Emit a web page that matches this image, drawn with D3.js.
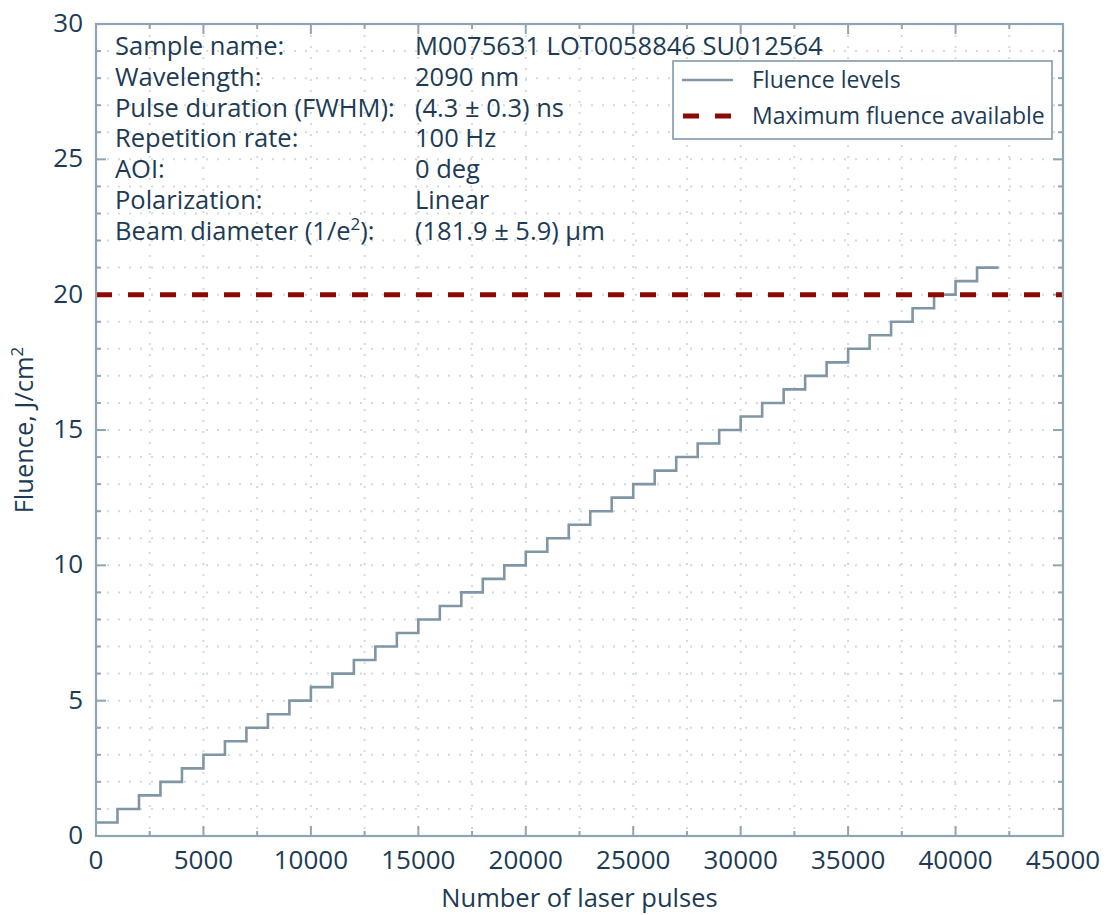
<!DOCTYPE html>
<html>
<head>
<meta charset="utf-8">
<script src="https://cdn.jsdelivr.net/npm/d3@7"></script>
<style>
  body { margin: 0; background: #fff; }
  text { font-family: "Open Sans", sans-serif; font-weight: 400; fill: #1d3b55; }
</style>
</head>
<body>
<script>
"use strict";
// step breakpoints (laser pulses) and fluence level held from each breakpoint
const pulses = [0, 1000, 2000, 3000, 4000, 5000, 6000, 7000, 8000, 9000, 10000,
    11000, 12000, 13000, 14000, 15000, 16000, 17000, 18000, 19000, 20000,
    21000, 22000, 23000, 24000, 25000, 26000, 27000, 28000, 29000, 30000,
    31000, 32000, 33000, 34000, 35000, 36000, 37000, 38000, 39000, 40000,
    41000, 42000];
const fluence = [0.5, 1.0, 1.5, 2.0, 2.5, 3.0, 3.5, 4.0, 4.5, 5.0, 5.5,
    6.0, 6.5, 7.0, 7.5, 8.0, 8.5, 9.0, 9.5, 10.0, 10.5,
    11.0, 11.5, 12.0, 12.5, 13.0, 13.5, 14.0, 14.5, 15.0, 15.5,
    16.0, 16.5, 17.0, 17.5, 18.0, 18.5, 19.0, 19.5, 20.0, 20.5,
    21.0, 21.0];
const maxFluence = 20;
const xTicks = [0, 5000, 10000, 15000, 20000, 25000, 30000, 35000, 40000, 45000];
const yTicks = [0, 5, 10, 15, 20, 25, 30];
const infoLabels = ["Sample name:", "Wavelength:", "Pulse duration (FWHM):", "Repetition rate:",
    "AOI:", "Polarization:", "Beam diameter (1/e|2|):"];
const infoValues = ["M0075631 LOT0058846 SU012564", "2090 nm", "(4.3 ± 0.3) ns", "100 Hz",
    "0 deg", "Linear", "(181.9 ± 5.9) µm"];
const legendItems = ["Fluence levels", "Maximum fluence available"];

const W = 1109, H = 915;
const m = { left: 96, top: 24, right: 1063, bottom: 836 };
const axisCol = "#8ea5b3", gridCol = "#d0dae0", stepCol = "#7f96a5", redCol = "#8b0b00";

const svg = d3.select("body").append("svg").attr("width", W).attr("height", H);

const x = d3.scaleLinear().domain([0, 45000]).range([m.left, m.right]);
const y = d3.scaleLinear().domain([0, 30]).range([m.bottom, m.top]);

const xMinor = d3.range(0, 45001, 2500);
const yMinor = d3.range(0, 31, 1);

// dotted grid
const grid = svg.append("g");
grid.selectAll(".gx").data(xMinor.filter(d => d > 0 && d < 45000)).enter().append("line")
    .attr("x1", d => x(d)).attr("x2", d => x(d)).attr("y1", m.top).attr("y2", m.bottom)
    .attr("stroke", gridCol).attr("stroke-width", 2).attr("stroke-dasharray", "2,9");
grid.selectAll(".gy").data(yMinor.filter(d => d > 0 && d < 30)).enter().append("line")
    .attr("y1", d => y(d)).attr("y2", d => y(d)).attr("x1", m.left).attr("x2", m.right)
    .attr("stroke", gridCol).attr("stroke-width", 2).attr("stroke-dasharray", "2,9");

// ticks, inward on all four sides
function tickLen(isMajor) { return isMajor ? 10 : 5; }
const ticks = svg.append("g").attr("stroke", axisCol).attr("stroke-width", 2);
xMinor.forEach(d => {
    const L = tickLen(d % 5000 === 0);
    ticks.append("line").attr("x1", x(d)).attr("x2", x(d)).attr("y1", m.bottom).attr("y2", m.bottom - L);
    ticks.append("line").attr("x1", x(d)).attr("x2", x(d)).attr("y1", m.top).attr("y2", m.top + L);
});
yMinor.forEach(d => {
    const L = tickLen(d % 5 === 0);
    ticks.append("line").attr("y1", y(d)).attr("y2", y(d)).attr("x1", m.left).attr("x2", m.left + L);
    ticks.append("line").attr("y1", y(d)).attr("y2", y(d)).attr("x1", m.right).attr("x2", m.right - L);
});

// tick labels
svg.append("g").selectAll("text").data(xTicks).enter().append("text")
    .attr("x", d => x(d)).attr("y", m.bottom + 33).attr("text-anchor", "middle")
    .attr("font-size", 26).text(d => d);
svg.append("g").selectAll("text").data(yTicks).enter().append("text")
    .attr("x", m.left - 13).attr("y", d => y(d) + 8).attr("text-anchor", "end")
    .attr("font-size", 26).text(d => d);

// step series
const pts = pulses.map((p, i) => [p, fluence[i]]);
const stepLine = d3.line().x(d => x(d[0])).y(d => y(d[1])).curve(d3.curveStepAfter);
svg.append("path").datum(pts).attr("d", stepLine)
    .attr("fill", "none").attr("stroke", stepCol).attr("stroke-width", 2.6);

// maximum fluence line
svg.append("line").attr("x1", x(0)).attr("x2", x(45000)).attr("y1", y(maxFluence)).attr("y2", y(maxFluence))
    .attr("stroke", redCol).attr("stroke-width", 5).attr("stroke-dasharray", "16,16");

// frame
svg.append("rect").attr("x", m.left).attr("y", m.top)
    .attr("width", m.right - m.left).attr("height", m.bottom - m.top)
    .attr("fill", "none").attr("stroke", axisCol).attr("stroke-width", 2.2);

// info block
function richText(sel, str) {
    str.split("|").forEach((part, i) => {
        if (i % 2 === 1) {
            sel.append("tspan").attr("dy", -10).attr("font-size", 17).text(part);
        } else {
            sel.append("tspan").attr("dy", i === 0 ? 0 : 10).text(part);
        }
    });
}
const info = svg.append("g").attr("font-size", 25.5);
infoLabels.forEach((t, i) => {
    richText(info.append("text").attr("x", 115).attr("y", 55 + i * 30.8), t);
});
infoValues.forEach((t, i) => {
    info.append("text").attr("x", 415).attr("y", 55 + i * 30.8).text(t);
});

// legend
const lg = svg.append("g");
lg.append("rect").attr("x", 673).attr("y", 61).attr("width", 379).attr("height", 78)
    .attr("fill", "#fff").attr("stroke", axisCol).attr("stroke-width", 1.8);
lg.append("line").attr("x1", 682).attr("x2", 733).attr("y1", 80).attr("y2", 80)
    .attr("stroke", stepCol).attr("stroke-width", 2.6);
lg.append("line").attr("x1", 683).attr("x2", 733).attr("y1", 116).attr("y2", 116)
    .attr("stroke", redCol).attr("stroke-width", 5).attr("stroke-dasharray", "16,16");
lg.selectAll("text").data(legendItems).enter().append("text")
    .attr("x", 752).attr("y", (d, i) => 88 + i * 36).attr("font-size", 23).text(d => d);

// axis titles
svg.append("text").attr("x", (m.left + m.right) / 2).attr("y", 907).attr("text-anchor", "middle")
    .attr("font-size", 25.5).text("Number of laser pulses");
const yl = svg.append("text").attr("transform", `translate(33,${(m.top + m.bottom) / 2}) rotate(-90)`)
    .attr("text-anchor", "middle").attr("font-size", 25.5);
richText(yl, "Fluence, J/cm|2|");
</script>
</body>
</html>
